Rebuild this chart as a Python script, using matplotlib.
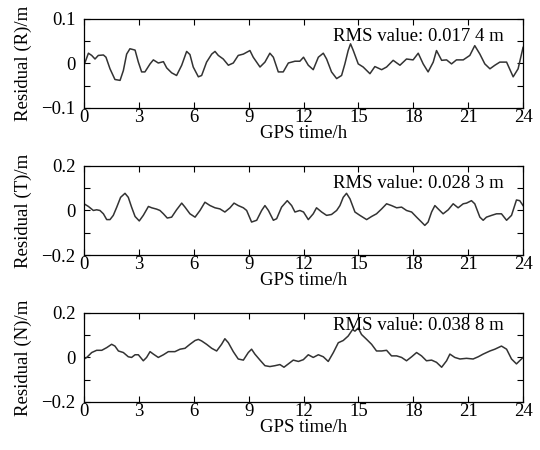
import numpy as np
import matplotlib
matplotlib.use('Agg')
import matplotlib.pyplot as plt

plt.rcParams['font.family'] = ['Liberation Serif', 'DejaVu Serif']
plt.rcParams['font.size'] = 13.5

# ── Residuals (hour, metre) ──────────────────────────────────────────────
t_r = [0, 0.24, 0.42, 0.60, 0.78, 1.06, 1.20, 1.42, 1.69, 1.97, 2.15, 2.33, 2.51, 2.79,
       2.97, 3.15, 3.33, 3.61, 3.79, 4.06, 4.34, 4.52, 4.79, 5.06, 5.34, 5.61, 5.79, 5.97,
       6.25, 6.43, 6.70, 6.98, 7.16, 7.34, 7.61, 7.89, 8.16, 8.43, 8.71, 9.07, 9.25, 9.62,
       9.89, 10.16, 10.35, 10.62, 10.89, 11.17, 11.53, 11.80, 12.0, 12.26, 12.53, 12.81,
       13.08, 13.26, 13.53, 13.81, 14.08, 14.26, 14.44, 14.57, 14.72, 14.99, 15.26, 15.63,
       15.90, 16.27, 16.54, 16.90, 17.27, 17.63, 17.99, 18.27, 18.54, 18.81, 19.09, 19.27,
       19.55, 19.82, 20.09, 20.36, 20.73, 21.09, 21.36, 21.64, 21.91, 22.19, 22.46, 22.73,
       23.10, 23.46, 23.73, 24.0]
res_r = [-0.004, 0.023, 0.018, 0.010, 0.018, 0.019, 0.014, -0.012, -0.036, -0.038, -0.016,
         0.021, 0.033, 0.030, 0.003, -0.019, -0.019, -0.001, 0.008, 0.001, 0.004, -0.010,
         -0.021, -0.027, -0.004, 0.027, 0.020, -0.008, -0.030, -0.027, 0.003, 0.021, 0.027,
         0.018, 0.010, -0.004, 0.001, 0.018, 0.021, 0.029, 0.014, -0.008, 0.003, 0.023, 0.014,
         -0.019, -0.019, 0.001, 0.005, 0.005, 0.014, -0.004, -0.014, 0.014, 0.023, 0.010,
         -0.019, -0.034, -0.027, -0.001, 0.029, 0.044, 0.029, -0.001, -0.008, -0.023, -0.007,
         -0.014, -0.008, 0.007, -0.004, 0.010, 0.008, 0.023, -0.001, -0.019, 0.003, 0.029,
         0.007, 0.008, -0.001, 0.008, 0.008, 0.018, 0.040, 0.021, -0.001, -0.012, -0.004,
         0.003, 0.003, -0.030, -0.012, 0.036]

t_t = [0, 0.24, 0.51, 0.69, 0.87, 1.06, 1.24, 1.42, 1.60, 1.79, 2.00, 2.24, 2.42, 2.60,
       2.79, 3.02, 3.24, 3.52, 3.70, 3.97, 4.15, 4.34, 4.55, 4.79, 5.06, 5.34, 5.52, 5.79,
       6.07, 6.34, 6.61, 6.89, 7.16, 7.43, 7.70, 7.98, 8.20, 8.43, 8.71, 8.89, 9.16, 9.44,
       9.71, 9.89, 10.08, 10.35, 10.53, 10.80, 11.11, 11.35, 11.53, 11.80, 12.0, 12.26,
       12.53, 12.71, 12.99, 13.26, 13.53, 13.81, 13.99, 14.17, 14.35, 14.54, 14.81, 15.08,
       15.45, 15.72, 15.99, 16.27, 16.54, 16.81, 17.09, 17.36, 17.63, 17.91, 18.18, 18.45,
       18.63, 18.81, 19.00, 19.18, 19.36, 19.63, 19.91, 20.18, 20.45, 20.73, 20.91, 21.18,
       21.36, 21.64, 21.82, 22.00, 22.28, 22.55, 22.82, 23.10, 23.37, 23.64, 23.82, 24.0]
res_t = [0.030, 0.018, 0.000, 0.003, 0.000, -0.015, -0.041, -0.041, -0.022, 0.015, 0.059,
         0.077, 0.059, 0.015, -0.027, -0.047, -0.022, 0.018, 0.012, 0.006, 0.000, -0.015,
         -0.034, -0.030, 0.003, 0.033, 0.015, -0.015, -0.030, 0.000, 0.037, 0.022, 0.012,
         0.007, -0.007, 0.012, 0.033, 0.022, 0.012, 0.000, -0.052, -0.044, 0.000, 0.022,
         0.000, -0.044, -0.037, 0.015, 0.044, 0.022, -0.007, 0.000, -0.007, -0.041, -0.015,
         0.012, -0.007, -0.022, -0.018, 0.000, 0.022, 0.059, 0.077, 0.052, -0.007, -0.022,
         -0.041, -0.027, -0.015, 0.007, 0.030, 0.022, 0.012, 0.015, 0.000, -0.007, -0.030,
         -0.052, -0.067, -0.052, -0.007, 0.022, 0.007, -0.015, 0.003, 0.030, 0.012, 0.030,
         0.033, 0.044, 0.030, -0.030, -0.044, -0.030, -0.022, -0.015, -0.015, -0.044, -0.022,
         0.047, 0.044, 0.022]

t_n = [0, 0.15, 0.42, 0.69, 0.97, 1.24, 1.51, 1.69, 1.88, 2.15, 2.42, 2.60, 2.79, 2.97,
       3.24, 3.42, 3.61, 3.79, 4.06, 4.34, 4.61, 4.97, 5.25, 5.52, 5.79, 6.07, 6.25, 6.43,
       6.70, 6.98, 7.25, 7.52, 7.70, 7.89, 8.16, 8.43, 8.71, 8.98, 9.16, 9.34, 9.62, 9.89,
       10.16, 10.44, 10.71, 10.93, 11.17, 11.44, 11.72, 11.99, 12.26, 12.53, 12.81, 13.08,
       13.35, 13.63, 13.90, 14.17, 14.44, 14.68, 14.81, 14.99, 15.17, 15.45, 15.72, 15.99,
       16.27, 16.54, 16.81, 17.09, 17.36, 17.63, 17.91, 18.18, 18.45, 18.72, 19.00, 19.27,
       19.55, 19.82, 20.00, 20.27, 20.55, 20.91, 21.27, 21.55, 21.82, 22.19, 22.46, 22.82,
       23.10, 23.37, 23.64, 24.0]
res_n = [-0.007, 0.000, 0.022, 0.032, 0.032, 0.044, 0.059, 0.051, 0.029, 0.022, 0.003,
         0.000, 0.012, 0.012, -0.015, 0.000, 0.026, 0.015, 0.000, 0.012, 0.026, 0.026, 0.037,
         0.041, 0.059, 0.076, 0.081, 0.074, 0.059, 0.041, 0.029, 0.059, 0.084, 0.066, 0.026,
         -0.007, -0.012, 0.022, 0.037, 0.015, -0.012, -0.037, -0.041, -0.037, -0.032, -0.044,
         -0.029, -0.012, -0.018, -0.010, 0.012, 0.000, 0.012, 0.003, -0.018, 0.022, 0.066,
         0.076, 0.096, 0.125, 0.118, 0.132, 0.103, 0.081, 0.059, 0.029, 0.029, 0.032, 0.007,
         0.007, 0.000, -0.015, 0.003, 0.022, 0.007, -0.015, -0.012, -0.022, -0.044, -0.015,
         0.015, 0.000, -0.007, -0.004, -0.007, 0.003, 0.015, 0.029, 0.037, 0.051, 0.037,
         -0.007, -0.029, 0.000]

panels = [
    (t_r, res_r, 'Residual (R)/m', 0.1, 'RMS value: 0.017 4 m', 0.80),
    (t_t, res_t, 'Residual (T)/m', 0.2, 'RMS value: 0.028 3 m', 0.80),
    (t_n, res_n, 'Residual (N)/m', 0.2, 'RMS value: 0.038 8 m', 0.855),
]
x_ticks = np.arange(0, 25, 3)

# ── Figure ───────────────────────────────────────────────────────────────
fig = plt.figure(figsize=(5.4, 4.5), dpi=100)
fig.patch.set_facecolor('white')

left, width, height = 0.1556, 0.813, 0.198
bottoms = [0.76, 0.4333, 0.1067]

for (t, r, ylab, lim, rms, ty), b in zip(panels, bottoms):
    ax = fig.add_axes([left, b, width, height])
    ax.plot(t, r, color='#333333', linewidth=1.1)
    ax.set_xlim(0, 24)
    ax.set_ylim(-lim, lim)
    ax.set_xticks(x_ticks)
    ax.set_xticklabels([str(v) for v in x_ticks])
    ax.set_yticks([-lim, -lim / 2, 0, lim / 2, lim])
    ax.set_yticklabels(['\u2212%g' % lim, '', '0', '', '%g' % lim])
    ax.tick_params(direction='in', top=True, right=True, length=4, width=0.8,
                   labelsize=13.5)
    ax.tick_params(axis='x', pad=1)
    ax.tick_params(axis='y', pad=6)
    for s in ax.spines.values():
        s.set_linewidth(0.9)
    ax.set_xlabel('GPS time/h', fontsize=13.5, labelpad=-1)
    ax.set_ylabel(ylab, fontsize=13.5, labelpad=7)
    ax.text(0.568, ty, rms, transform=ax.transAxes, fontsize=13.5,
            ha='left', va='center')

fig.savefig('out.png', dpi=100, facecolor='white')
